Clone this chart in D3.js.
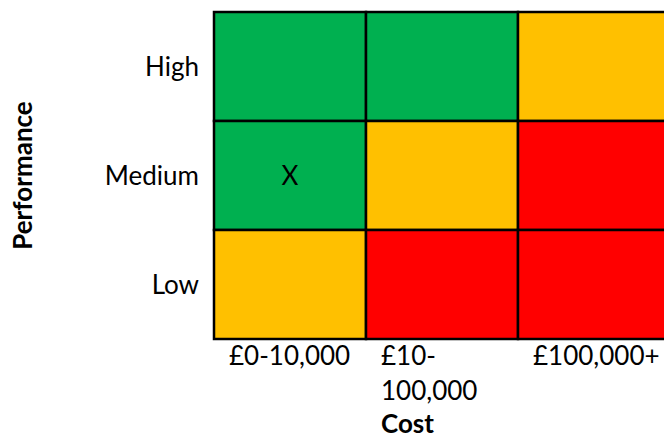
<!DOCTYPE html>
<html>
<head>
<meta charset="utf-8">
<script src="https://cdn.jsdelivr.net/npm/d3@7"></script>
<style>
  body { margin: 0; background: #fff; }
  svg { display: block; }
  text { font-family: Lato, "Open Sans", sans-serif; fill: #000; }
</style>
</head>
<body>
<svg id="drawing_region"></svg>
<script>
// cost bands (columns), performance bands (rows)
const costs = ["£0-10,000", "£10-\n100,000", "£100,000+"];
const performance = ["High", "Medium", "Low"];
// rating per row (performance) and column (cost)
const ratings = [
    ["good", "good", "fair"],
    ["good", "fair", "poor"],
    ["fair", "poor", "poor"]
];
const marker = { cost: "£0-10,000", performance: "Medium", label: "X" };

const width = 664, height = 439;
const fontSize = "26px";

const svg = d3.select("#drawing_region")
    .attr("width", width)
    .attr("height", height);

const x = d3.scaleBand()
    .domain(costs)
    .range([214, 670]);

const y = d3.scaleBand()
    .domain(performance)
    .range([12, 339]);

const color = d3.scaleOrdinal()
    .domain(["good", "fair", "poor"])
    .range(["#00b050", "#ffc000", "#ff0000"]);

const cells = [];
performance.forEach((p, i) => {
    costs.forEach((c, j) => {
        cells.push({ performance: p, cost: c, rating: ratings[i][j] });
    });
});

svg.append("g")
    .selectAll("rect")
    .data(cells)
    .enter()
    .append("rect")
    .attr("x", d => x(d.cost))
    .attr("y", d => y(d.performance))
    .attr("width", x.bandwidth())
    .attr("height", y.bandwidth())
    .attr("fill", d => color(d.rating))
    .attr("stroke", "#000")
    .attr("stroke-width", 2.5);

// marker
svg.append("text")
    .attr("x", x(marker.cost) + x.bandwidth() / 2)
    .attr("y", y(marker.performance) + y.bandwidth() / 2 + 9.5)
    .attr("text-anchor", "middle")
    .style("font-size", fontSize)
    .text(marker.label);

// row labels
svg.append("g")
    .selectAll("text")
    .data(performance)
    .enter()
    .append("text")
    .attr("x", 199)
    .attr("y", d => y(d) + y.bandwidth() / 2 + 9.5)
    .attr("text-anchor", "end")
    .style("font-size", fontSize)
    .text(d => d);

// column labels (left aligned, wrapped)
const colLabels = svg.append("g")
    .selectAll("text")
    .data(costs)
    .enter()
    .append("text")
    .attr("y", 365)
    .style("font-size", fontSize);

colLabels.selectAll("tspan")
    .data(d => d.split("\n").map(t => ({ t, parent: d })))
    .enter()
    .append("tspan")
    .attr("x", d => x(d.parent) + 15)
    .attr("dy", (d, i) => i === 0 ? 0 : 35)
    .text(d => d.t);

// axis titles
svg.append("text")
    .attr("x", x(costs[1]) + 15)
    .attr("y", 433)
    .style("font-size", fontSize)
    .style("font-weight", "bold")
    .text("Cost");

svg.append("text")
    .attr("transform", `translate(32, ${(y.range()[0] + y.range()[1]) / 2}) rotate(-90)`)
    .attr("text-anchor", "middle")
    .style("font-size", fontSize)
    .style("font-weight", "bold")
    .text("Performance");
</script>
</body>
</html>
